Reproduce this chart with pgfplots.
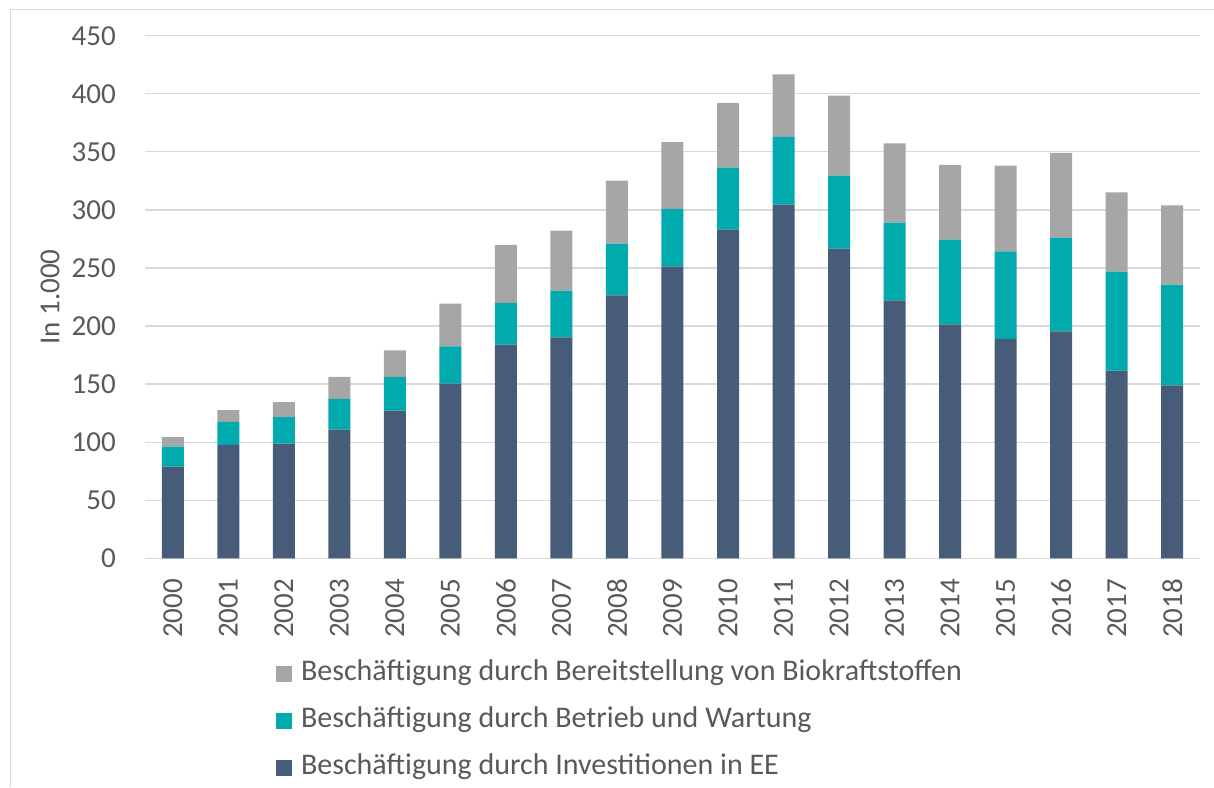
\documentclass[border=0pt]{standalone}
\usepackage{fontspec}
\setmainfont{Carlito}
\usepackage{pgfplots}
\usepackage{pgfplotstable}
\pgfplotsset{compat=1.18}
\definecolor{cdark}{RGB}{70,92,120}
\definecolor{cteal}{RGB}{0,170,173}
\definecolor{cgray}{RGB}{166,166,166}
\definecolor{cgrid}{RGB}{217,217,217}
\definecolor{ctext}{RGB}{89,89,89}
\pgfplotstableread{
x year inv bw bio
0 2000 79.0 17.2 8.1
1 2001 97.7 19.8 10.1
2 2002 98.8 22.7 13.0
3 2003 110.9 26.4 19.0
4 2004 127.2 29.1 22.7
5 2005 150.5 31.9 36.8
6 2006 183.9 36.1 49.8
7 2007 190.2 40.2 51.8
8 2008 226.4 44.6 54.3
9 2009 251.4 49.5 57.4
10 2010 283.0 53.5 55.7
11 2011 304.6 58.3 53.7
12 2012 266.6 63.0 68.9
13 2013 222.1 66.9 68.2
14 2014 201.4 73.0 64.4
15 2015 189.0 75.3 73.9
16 2016 195.4 80.7 73.0
17 2017 161.7 85.1 68.2
18 2018 148.8 86.8 68.4
}\datatable
\begin{document}
\begin{tikzpicture}[x=1pt,y=1pt]
\path[use as bounding box] (0,0) rectangle (1214,787);
\draw[cgrid,line width=1pt] (10,0) -- (10,777.5) -- (1214,777.5);
\begin{axis}[
  at={(145pt,228.7pt)}, anchor=south west,
  scale only axis, width=1055pt, height=522.6pt,
  ybar stacked, bar width=22pt,
  xmin=-0.5, xmax=18.5, ymin=0, ymax=450,
  xtick=data,
  xticklabels={2000,2001,2002,2003,2004,2005,2006,2007,2008,2009,2010,2011,2012,2013,2014,2015,2016,2017,2018},
  ytick={0,50,...,450},
  major tick length=0pt,
  axis line style={draw=none},
  ymajorgrids, grid style={cgrid,line width=1.3pt},
  /pgf/number format/assume math mode=true,
  /pgf/number format/1000 sep={},
  tick label style={font=\fontsize{29}{35}\selectfont, text=ctext},
  xticklabel style={rotate=90, anchor=east, inner sep=0pt, xshift=-20.7pt},
  yticklabel style={anchor=east, inner sep=0pt, xshift=-29pt},
  ylabel={In 1.000},
  ylabel style={font=\fontsize{29}{35}\selectfont, text=ctext, at={(axis description cs:-0.090,0.5)}, anchor=center, inner sep=0pt},
  reverse legend,
  legend cell align=left,
  legend image code/.code={\fill[#1] (0pt,-8pt) rectangle (16pt,8pt);},
  legend style={at={(axis description cs:0.124,-0.1946)}, anchor=north west,
    draw=none, fill=none, inner sep=0pt, row sep=20pt,
    font=\fontsize{30}{36}\selectfont, text=ctext,
    nodes={inner sep=0pt, text height=20pt, text depth=7pt},
    /tikz/every odd column/.append style={column sep=9pt}},
]
\addplot[fill=cdark, draw=none] table[x=x, y=inv] {\datatable};
\addlegendentry{Beschäftigung durch Investitionen in EE}
\addplot[fill=cteal, draw=none] table[x=x, y=bw] {\datatable};
\addlegendentry{Beschäftigung durch Betrieb und Wartung}
\addplot[fill=cgray, draw=none] table[x=x, y=bio] {\datatable};
\addlegendentry{Beschäftigung durch Bereitstellung von Biokraftstoffen}
\end{axis}
\end{tikzpicture}
\end{document}
